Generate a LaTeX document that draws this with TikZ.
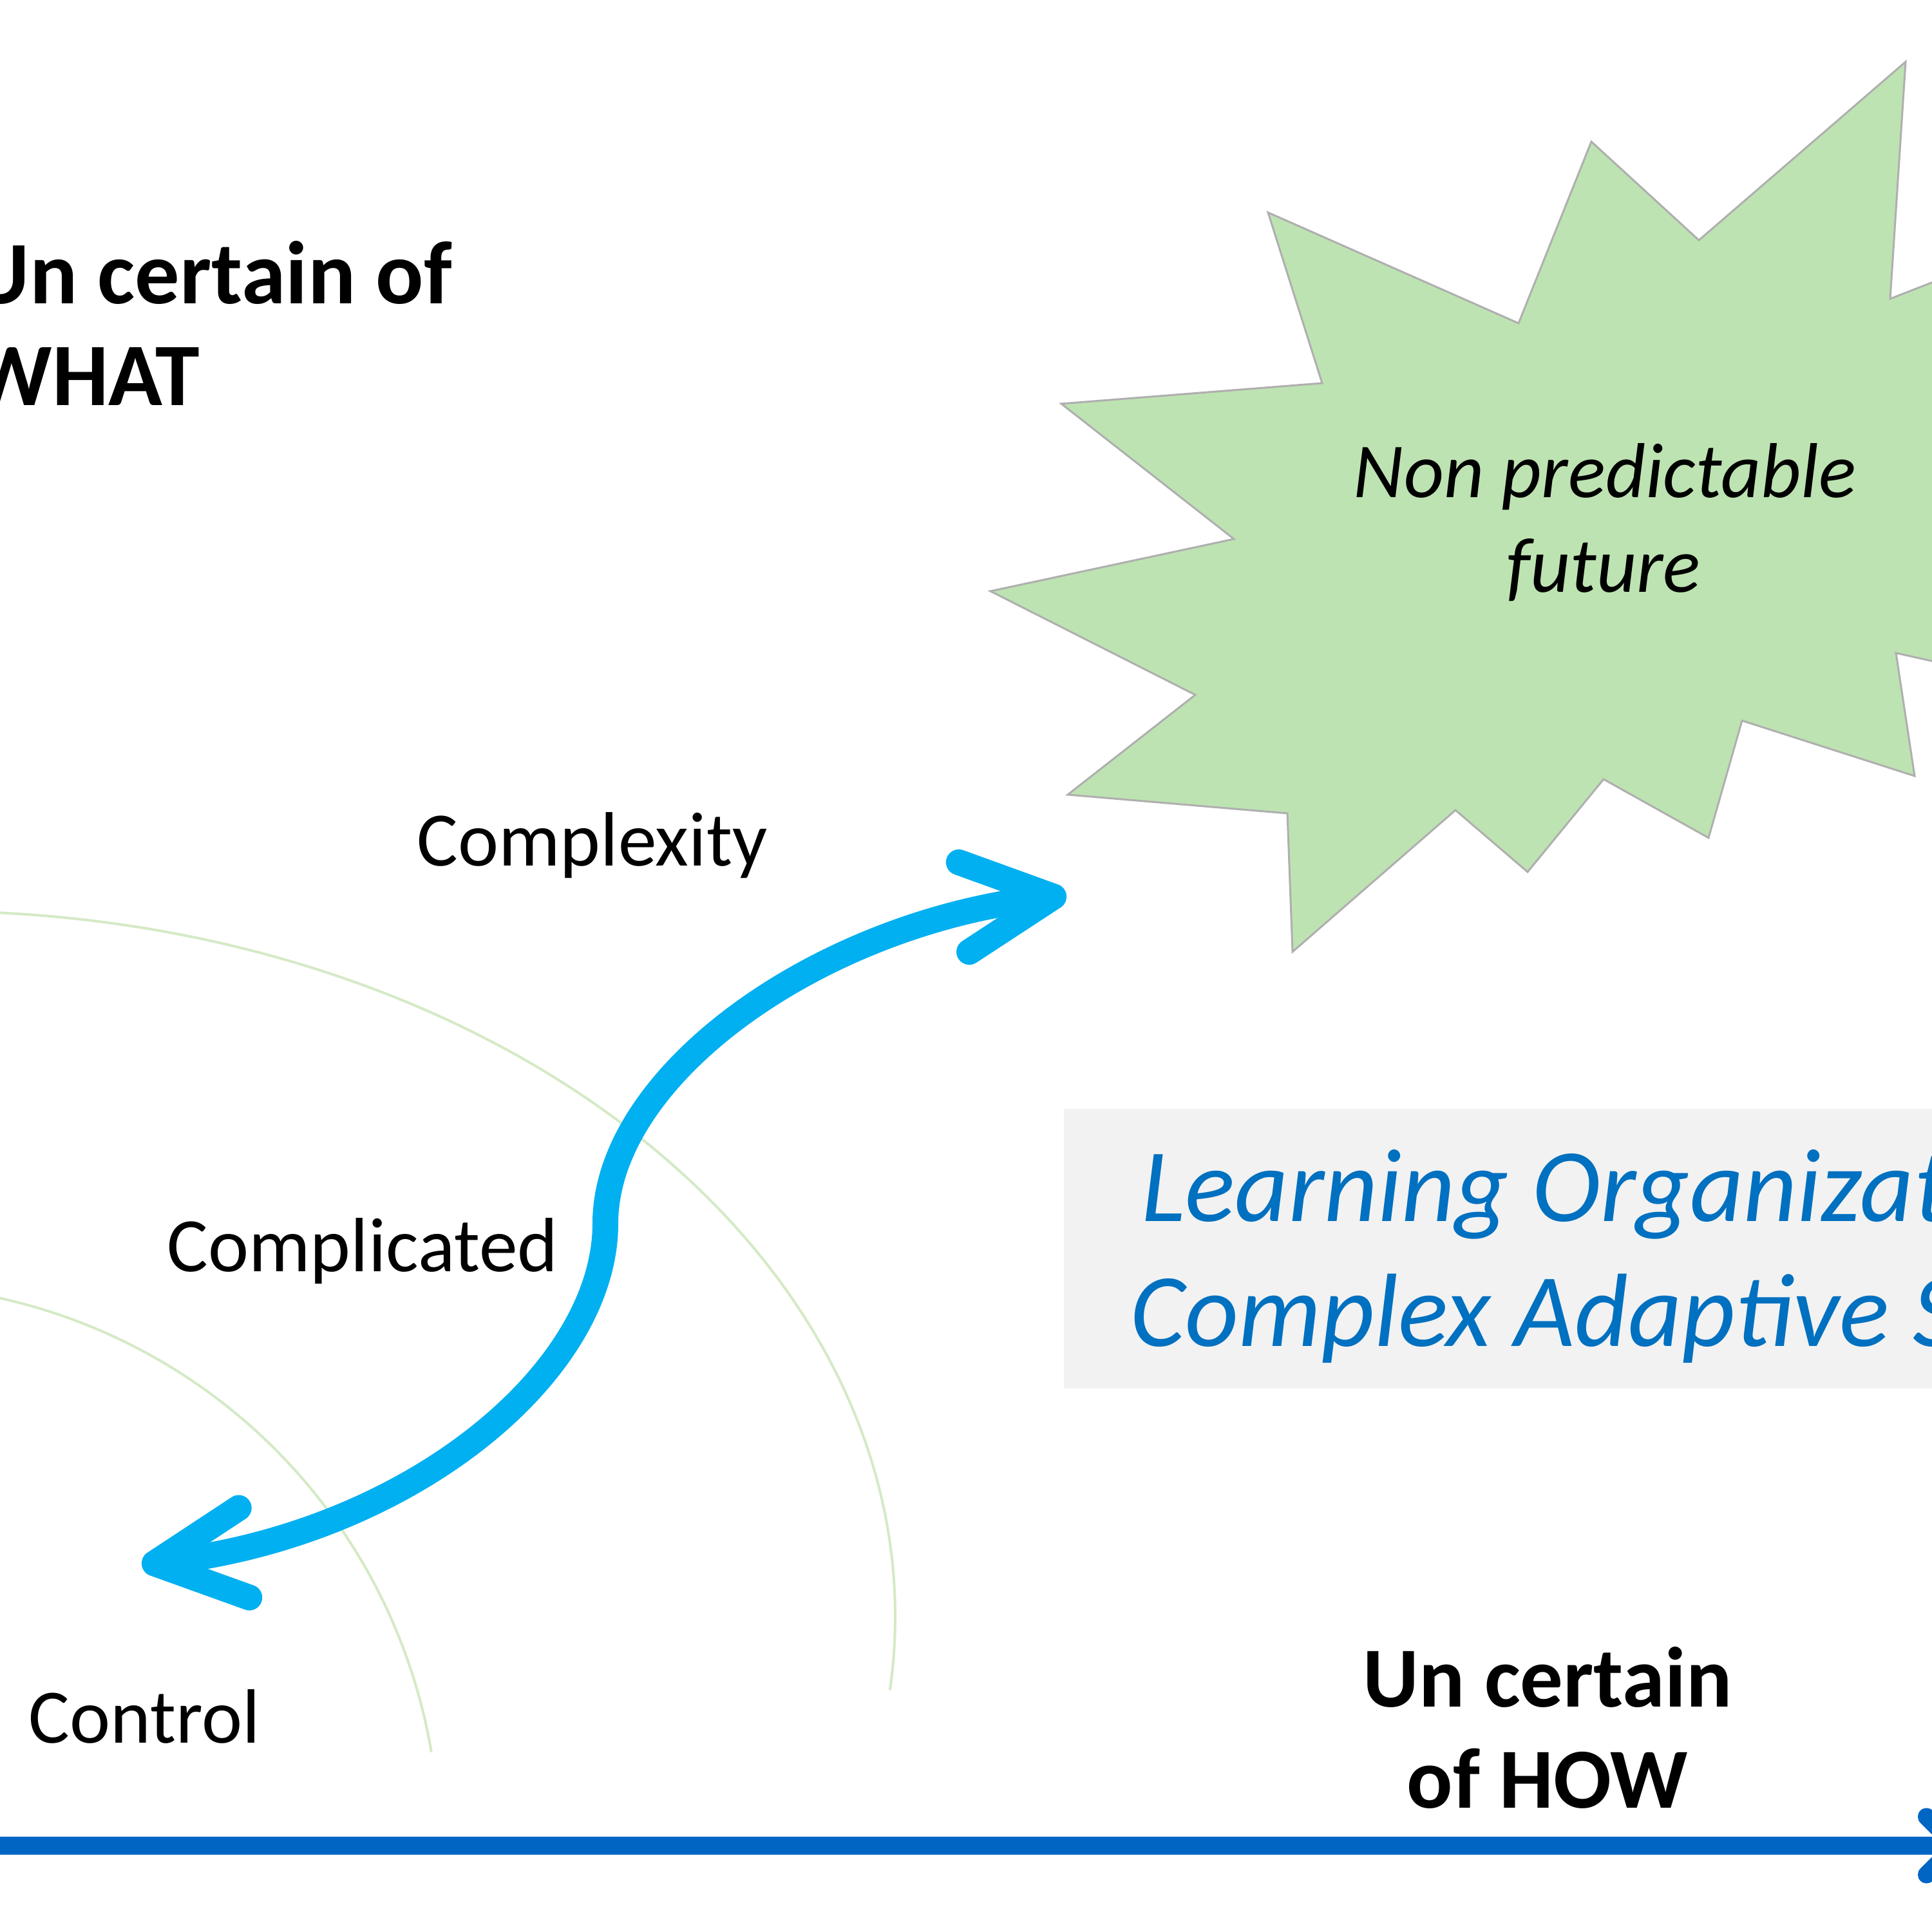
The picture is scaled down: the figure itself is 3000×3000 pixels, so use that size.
\documentclass[tikz,border=0pt]{standalone}
\usepackage{fontspec}
\setmainfont{Carlito}
\usetikzlibrary{arrows.meta}
\definecolor{burst}{RGB}{190,227,178}
\definecolor{burstedge}{RGB}{175,175,175}
\definecolor{ringgreen}{RGB}{212,234,198}
\definecolor{cyanarrow}{RGB}{0,176,240}
\definecolor{axisblue}{RGB}{0,102,196}
\definecolor{boxgray}{RGB}{242,242,242}
\definecolor{textblue}{RGB}{0,112,192}
\begin{document}
\begin{tikzpicture}[x=0.01cm,y=0.01cm,
  lbl/.style={inner sep=0pt, font=\fontsize{34}{40}\selectfont},
  italbl/.style={inner sep=0pt, font=\fontsize{34.4}{40}\selectfont\itshape},
  boldlbl/.style={inner sep=0pt, font=\fontsize{39.4}{45}\selectfont\bfseries},
  howlbl/.style={inner sep=0pt, font=\fontsize{37.8}{45}\selectfont\bfseries},
  bluelbl/.style={inner sep=0pt, text=textblue, font=\fontsize{46}{54}\selectfont\itshape},
  ringline/.style={draw=ringgreen, line width=0.4mm},
  burstshape/.style={fill=burst, draw=burstedge, line width=0.3mm, line join=miter},
  sarrow/.style={draw=cyanarrow, line width=4mm,
    {Straight Barb[length=14mm,width=14mm,round]}-{Straight Barb[length=14mm,width=14mm,round]}},
  axisline/.style={draw=axisblue, line width=2.7mm, -{Straight Barb[length=4.5mm,width=9mm,round]}}
]
\useasboundingbox (0,0) rectangle (3000,3000);
\clip (0,0) rectangle (3000,3000);

% rings
\draw[ringline] (-358.7,1568.4) arc[start angle=100,end angle=-6,x radius=1490,y radius=1095];
\draw[ringline] (-340.2,991.8) arc[start angle=100,end angle=9.6,radius=871];

% starburst
\draw[burstshape] (2959,2904) -- (2935,2536) -- (3150,2620) -- (3100,2300) -- (3150,1940)
  -- (2944,1986) -- (2973,1795) -- (2705,1881) -- (2653,1699) -- (2490,1790)
  -- (2372,1646) -- (2260,1742) -- (2007,1522) -- (1999,1737) -- (1658,1766)
  -- (1856,1921) -- (1538,2082) -- (1916,2163) -- (1648,2373) -- (2053,2405)
  -- (1969,2670) -- (2358,2498) -- (2471,2780) -- (2638,2627) -- cycle;
\node[italbl, anchor=base] (np1) at (2492,2227) {Non predictable};
\node[italbl, anchor=base] (np2) at (2490,2080) {future};

% grey box
\fill[boxgray] (1652,844) rectangle (3100,1278);
\node[bluelbl, anchor=base west] (lo1) at (1772,1103) {Learning Organization};
\node[bluelbl, anchor=base west] (lo2) at (1755,909) {Complex Adaptive Systems};

% labels
\node[boldlbl, anchor=base west] (what1) at (-45,2528) {Un certain of};
\node[boldlbl, anchor=base west] (what2) at (-45,2370) {WHAT};
\node[lbl, anchor=base west] (cplx) at (647,1655) {Complexity};
\node[lbl, anchor=base west] (cpld) at (259,1025) {Complicated};
\node[lbl, anchor=base west] (ctrl) at (44,293) {Control};
\node[howlbl, anchor=base] (how1) at (2403,349) {Un certain};
\node[howlbl, anchor=base] (how2) at (2403,192) {of HOW};

% S-shaped double arrow
\coordinate (lowtip) at (220,570);
\coordinate (midpt) at (940,1100);
\coordinate (hightip) at (1656,1610);
\draw[sarrow] (lowtip) .. controls (640,620) and (940,870) .. (midpt)
  .. controls (940,1330) and (1270,1565) .. (hightip);

% axis
\coordinate (axstart) at (-60,134);
\coordinate (axend) at (3050,134);
\draw[axisline] (axstart) -- (axend);
\end{tikzpicture}
\end{document}
